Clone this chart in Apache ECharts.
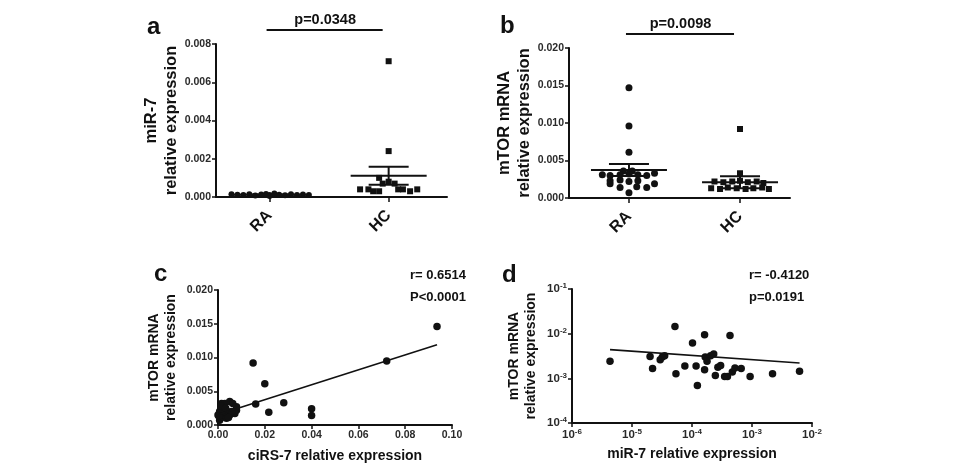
<!DOCTYPE html>
<html>
<head>
<meta charset="utf-8">
<script src="https://cdn.jsdelivr.net/npm/echarts@6/dist/echarts.min.js"></script>
<style>
  html, body { margin: 0; padding: 0; background: #fff; }
  #chart { width: 959px; height: 466px; }
</style>
</head>
<body>
<div id="chart"></div>
<script>
// groups on the x axis of panels a and b
const groups = ['RA', 'HC'];

// panel a: miR-7 relative expression (x = group position with jitter)
const aRaX = [0.68, 0.73, 0.78, 0.83, 0.88, 0.93, 0.97, 1.0, 1.0, 1.04, 1.08, 1.13, 1.18, 1.23, 1.28, 1.33];
const aRaVal = [0.00015, 0.00012, 0.00010, 0.00014, 0.00008, 0.00013, 0.00016, 0.00011, 0.00005, 0.00018, 0.00012, 0.00009, 0.00014, 0.00011, 0.00013, 0.00010];
const aHcX = [2.0, 2.0, 1.92, 2.0, 1.95, 2.05, 1.76, 1.83, 1.87, 1.92, 2.08, 2.12, 2.18, 2.24];
const aHcVal = [0.0071, 0.0024, 0.0010, 0.0008, 0.0007, 0.0007, 0.0004, 0.0004, 0.0003, 0.0003, 0.0004, 0.0004, 0.0003, 0.0004];
const aMean = [0.00012, 0.00111];
const aSem = [0.00001, 0.00047];
const aP = 'p=0.0348';

// panel b: mTOR mRNA relative expression
const bRaX = [1.0, 1.0, 1.0, 0.95, 1.03, 0.76, 0.83, 0.92, 1.0, 1.08, 1.16, 1.23, 0.83, 0.92, 1.0, 1.08, 0.83, 1.23, 0.92, 1.07, 1.16, 1.0];
const bRaVal = [0.0147, 0.0096, 0.0061, 0.0036, 0.0036, 0.0031, 0.0030, 0.0031, 0.0032, 0.0031, 0.0030, 0.0033, 0.0023, 0.0024, 0.0022, 0.0023, 0.0019, 0.0019, 0.0014, 0.0015, 0.0014, 0.0007];
const bHcX = [2.0, 2.0, 1.77, 1.85, 1.93, 2.0, 2.07, 2.15, 2.21, 1.74, 1.82, 1.89, 1.97, 2.05, 2.12, 2.2, 2.26];
const bHcVal = [0.0092, 0.0033, 0.0022, 0.0021, 0.0022, 0.0023, 0.0021, 0.0022, 0.0020, 0.0013, 0.0012, 0.0014, 0.0013, 0.0012, 0.0013, 0.0014, 0.0012];
const bMean = [0.00375, 0.0021];
const bSem = [0.0008, 0.0008];
const bP = 'p=0.0098';

// panel c: ciRS-7 vs mTOR mRNA
const cX = [0.0936, 0.0721, 0.0150, 0.0200, 0.0161, 0.0217, 0.0281, 0.0400, 0.0400, 0.0000, 0.0007, 0.0015, 0.0029, 0.0050, 0.0063, 0.0021, 0.0036, 0.0050, 0.0072, 0.0079, 0.0007, 0.0029, 0.0057, 0.0079, 0.0012, 0.0045, 0.0004, 0.0033];
const cY = [0.0146, 0.0095, 0.0092, 0.0061, 0.0031, 0.0019, 0.0033, 0.0024, 0.0014, 0.0015, 0.0020, 0.0032, 0.0032, 0.0035, 0.0032, 0.0012, 0.0010, 0.0015, 0.0017, 0.0022, 0.0007, 0.0020, 0.0020, 0.0027, 0.0028, 0.0011, 0.0013, 0.0025];
const cFitX = [0.0005, 0.0936];
const cFitY = [0.0016, 0.0119];
const cStats = ['r= 0.6514', 'P<0.0001'];

// panel d: miR-7 vs mTOR mRNA (log-log)
const dX = [4.3e-6, 5.2e-5, 2.0e-5, 2.2e-5, 2.95e-5, 3.2e-5, 3.5e-5, 5.4e-5, 7.6e-5, 1.02e-4, 1.17e-4, 1.23e-4, 1.62e-4, 1.62e-4, 1.66e-4, 1.78e-4, 2.04e-4, 2.3e-4, 2.45e-4, 2.7e-4, 3.0e-4, 3.5e-4, 4.3e-4, 3.9e-4, 4.7e-4, 5.2e-4, 6.6e-4, 9.3e-4, 2.2e-3, 6.2e-3];
const dY = [2.4e-3, 1.45e-2, 3.1e-3, 1.66e-3, 2.6e-3, 3.0e-3, 3.2e-3, 1.26e-3, 1.9e-3, 6.2e-3, 1.9e-3, 6.9e-4, 9.5e-3, 1.55e-3, 3.0e-3, 2.4e-3, 3.2e-3, 3.5e-3, 1.15e-3, 1.78e-3, 1.95e-3, 1.1e-3, 9.1e-3, 1.1e-3, 1.38e-3, 1.7e-3, 1.66e-3, 1.1e-3, 1.26e-3, 1.45e-3];
const dFitX = [4.3e-6, 6.2e-3];
const dFitY = [4.4e-3, 2.2e-3];
const dStats = ['r= -0.4120', 'p=0.0191'];

const FONT = '"Liberation Sans", Arial, sans-serif';
const INK = '#111';

const chart = echarts.init(document.getElementById('chart'), null, { renderer: 'canvas' });

const axisLine = { show: true, lineStyle: { color: INK, width: 2 } };
const axisTick = { show: true, length: 4, lineStyle: { color: INK, width: 1.5 } };
const tickLabel = { color: '#2a2a2a', fontFamily: FONT, fontWeight: 'bold', fontSize: 10.5, margin: 5 };

function zip(xs, ys) {
    return xs.map((x, i) => [x, ys[i]]);
}

function groupAxis(gi, min, max) {
    return {
        type: 'value', gridIndex: gi, min: min, max: max,
        axisLine: axisLine,
        axisTick: Object.assign({}, axisTick, { customValues: [1, 2], length: 5 }),
        axisLabel: {
            customValues: [1, 2],
            formatter: v => groups[Math.round(v) - 1],
            rotate: 45, margin: 16,
            color: INK, fontFamily: FONT, fontWeight: 'bold', fontSize: 16
        },
        splitLine: { show: false }
    };
}

function valueAxis(gi, max, interval, digits, name, nameGap, nameSize) {
    return {
        type: 'value', gridIndex: gi, min: 0, max: max, interval: interval,
        axisLine: axisLine, axisTick: axisTick,
        axisLabel: Object.assign({ formatter: v => v.toFixed(digits) }, tickLabel),
        splitLine: { show: false },
        name: name, nameLocation: 'middle', nameGap: nameGap,
        nameTextStyle: { color: INK, fontFamily: FONT, fontWeight: 'bold', fontSize: nameSize, lineHeight: nameSize + 3 }
    };
}

function logAxis(gi, min, max, name, nameGap) {
    return {
        type: 'log', logBase: 10, gridIndex: gi, min: min, max: max,
        axisLine: axisLine, axisTick: axisTick,
        axisLabel: Object.assign({}, tickLabel, {
            formatter: v => '{b|10}{s|' + Math.round(Math.log10(v)) + '}',
            rich: {
                b: { fontFamily: FONT, fontWeight: 'bold', fontSize: 11.5, color: '#2a2a2a', lineHeight: 14 },
                s: { fontFamily: FONT, fontWeight: 'bold', fontSize: 8, color: '#2a2a2a', verticalAlign: 'top', lineHeight: 14 }
            }
        }),
        splitLine: { show: false },
        minorTick: { show: false },
        name: name, nameLocation: 'middle', nameGap: nameGap,
        nameTextStyle: { color: INK, fontFamily: FONT, fontWeight: 'bold', fontSize: 14, lineHeight: 17 }
    };
}

// mean line with SEM whiskers for a column scatter
function meanSemSeries(gi, means, sems) {
    return {
        type: 'custom', xAxisIndex: gi, yAxisIndex: gi, z: 5, clip: false,
        data: means.map((m, i) => [i + 1, m, sems[i]]),
        renderItem: (params, api) => {
            const x = api.value(0), m = api.value(1), s = api.value(2);
            const c = api.coord([x, m]);
            const up = api.coord([x, m + s]);
            const dn = api.coord([x, m - s]);
            const st = { stroke: INK, lineWidth: 2 };
            return {
                type: 'group',
                children: [
                    { type: 'line', shape: { x1: c[0] - 38, y1: c[1], x2: c[0] + 38, y2: c[1] }, style: st },
                    { type: 'line', shape: { x1: c[0], y1: up[1], x2: c[0], y2: dn[1] }, style: st },
                    { type: 'line', shape: { x1: c[0] - 20, y1: up[1], x2: c[0] + 20, y2: up[1] }, style: st },
                    { type: 'line', shape: { x1: c[0] - 20, y1: dn[1], x2: c[0] + 20, y2: dn[1] }, style: st }
                ]
            };
        }
    };
}

// significance bar over the two groups
function pBarSeries(gi, yTop, text) {
    return {
        type: 'custom', xAxisIndex: gi, yAxisIndex: gi, clip: false,
        data: [[1, 2, yTop]],
        renderItem: (params, api) => {
            const a = api.coord([api.value(0), api.value(2)]);
            const b = api.coord([api.value(1), api.value(2)]);
            const y = a[1] - 14;
            return {
                type: 'group',
                children: [
                    { type: 'line', shape: { x1: a[0] - 3, y1: y, x2: b[0] - 6, y2: y }, style: { stroke: INK, lineWidth: 2 } },
                    { type: 'text', x: (a[0] + b[0]) / 2 - 4, y: y - 10,
                      style: { text: text, fill: INK, font: 'bold 14.5px ' + FONT, align: 'center', verticalAlign: 'middle' } }
                ]
            };
        }
    };
}

function dotSeries(gi, data, symbol, size) {
    return {
        type: 'scatter', xAxisIndex: gi, yAxisIndex: gi, data: data,
        symbol: symbol, symbolSize: size,
        itemStyle: { color: INK, opacity: 1 }, z: 3
    };
}

function fitSeries(gi, xs, ys) {
    return {
        type: 'line', xAxisIndex: gi, yAxisIndex: gi, data: zip(xs, ys),
        showSymbol: false, lineStyle: { color: INK, width: 1.6 }, z: 4, silent: true
    };
}

function label(x, y, text, size, align) {
    return {
        type: 'text', x: x, y: y,
        style: { text: text, fill: INK, font: 'bold ' + size + 'px ' + FONT, align: align || 'left', verticalAlign: 'middle' }
    };
}

const option = {
    backgroundColor: '#fff',
    animation: false,
    grid: [
        { left: 216, top: 44, width: 231, height: 153 },
        { left: 569, top: 48, width: 221, height: 150 },
        { left: 218, top: 290, width: 234, height: 137 },
        { left: 572, top: 289, width: 240, height: 134 }
    ],
    xAxis: [
        groupAxis(0, 0.55, 2.49),
        groupAxis(1, 0.46, 2.45),
        valueAxis(2, 0.1, 0.02, 2, 'ciRS-7 relative expression', 23, 14),
        logAxis(3, 1e-6, 1e-2, 'miR-7 relative expression', 23)
    ],
    yAxis: [
        valueAxis(0, 0.008, 0.002, 3, 'miR-7\nrelative expression', 34, 16.5),
        valueAxis(1, 0.020, 0.005, 3, 'mTOR mRNA\nrelative expression', 31, 16.5),
        valueAxis(2, 0.020, 0.005, 3, 'mTOR mRNA\nrelative expression', 38, 14),
        logAxis(3, 1e-4, 1e-1, 'mTOR mRNA\nrelative expression', 32)
    ],
    graphic: [
        label(147, 27, 'a', 24),
        label(500, 26, 'b', 24),
        label(154, 274, 'c', 24),
        label(502, 275, 'd', 24),
        label(410, 275, cStats[0], 13),
        label(410, 297, cStats[1], 13),
        label(749, 275, dStats[0], 13),
        label(749, 297, dStats[1], 13)
    ],
    series: [
        dotSeries(0, zip(aRaX, aRaVal), 'circle', 6),
        dotSeries(0, zip(aHcX, aHcVal), 'rect', 6),
        meanSemSeries(0, aMean, aSem),
        pBarSeries(0, 0.008, aP),

        dotSeries(1, zip(bRaX, bRaVal), 'circle', 7),
        dotSeries(1, zip(bHcX, bHcVal), 'rect', 6),
        meanSemSeries(1, bMean, bSem),
        pBarSeries(1, 0.020, bP),

        dotSeries(2, zip(cX, cY), 'circle', 7.5),
        fitSeries(2, cFitX, cFitY),

        dotSeries(3, zip(dX, dY), 'circle', 7.5),
        fitSeries(3, dFitX, dFitY)
    ]
};

chart.setOption(option);
</script>
</body>
</html>
